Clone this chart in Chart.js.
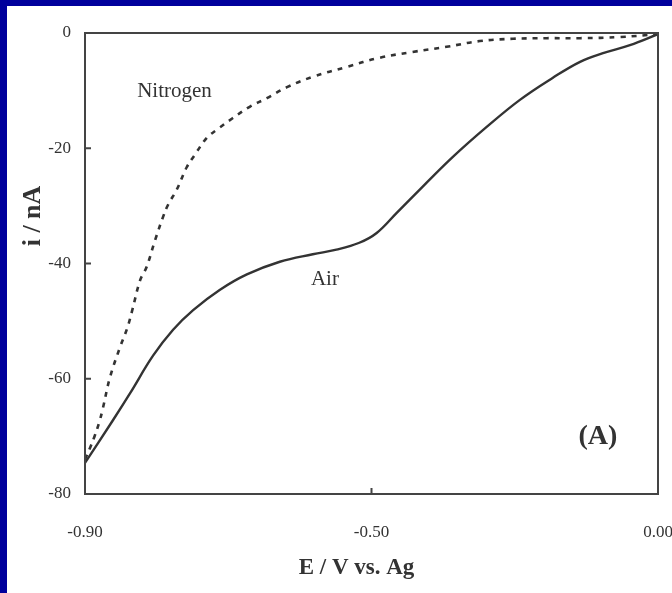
<!DOCTYPE html>
<html>
<head>
<meta charset="utf-8">
<title>Air vs Nitrogen</title>
<script src="https://cdn.jsdelivr.net/npm/chart.js@4.4.1/dist/chart.umd.min.js"></script>
<style>
  html, body { margin: 0; padding: 0; width: 672px; height: 593px; overflow: hidden; background: #00009c; }
  #wrap { position: absolute; left: 7px; top: 6px; width: 665px; height: 587px; background: #fff; }
</style>
</head>
<body>
<div id="wrap"><canvas id="chart"></canvas></div>
<script>
// tick labels
const xTicks = [-0.90, -0.50, 0.00];
const yTicks = [0, -20, -40, -60, -80];

// Air (solid)
const airX = [-0.900, -0.861, -0.837, -0.805, -0.777, -0.749, -0.712, -0.674, -0.628, -0.582, -0.549, -0.517,
              -0.491, -0.456, -0.411, -0.358, -0.299, -0.241, -0.184, -0.136, -0.096, -0.049, 0.000];
const airY = [-74.6, -67.2, -62.5, -56.0, -51.5, -48.1, -44.6, -41.9, -39.7, -38.4, -37.6, -36.4,
              -34.7, -31.2, -26.7, -21.5, -16.3, -11.6, -7.8, -5.0, -3.5, -2.1, -0.2];

// Nitrogen (dashed)
const n2X = [-0.900, -0.893, -0.887, -0.880, -0.875, -0.865, -0.851, -0.841, -0.834, -0.823, -0.814, -0.802,
             -0.791, -0.784, -0.772, -0.758, -0.747, -0.730, -0.716, -0.694, -0.670, -0.646, -0.618, -0.582,
             -0.535, -0.486, -0.429, -0.369, -0.311, -0.253, -0.194, -0.136, -0.066, 0.000];
const n2Y = [-74.0, -72.0, -70.1, -67.5, -65.1, -59.7, -54.5, -51.2, -48.1, -42.9, -40.6, -35.9,
             -31.9, -29.8, -27.2, -23.3, -21.2, -18.2, -16.8, -14.8, -12.8, -11.3, -9.4, -7.6,
             -5.9, -4.3, -3.3, -2.4, -1.4, -1.0, -0.9, -0.9, -0.7, -0.2];

const serif = '"Liberation Serif", "DejaVu Serif", serif';
const ink = '#333';

// the printed x axis is spaced evenly between its labels, so map piecewise between ticks
class StepScale extends Chart.LinearScale {
  buildTicks() {
    return xTicks.map(v => ({ value: v }));
  }
  getPixelForValue(value) {
    const n = xTicks.length - 1;
    let i = 0;
    while (i < n - 1 && value > xTicks[i + 1]) i++;
    const frac = (value - xTicks[i]) / (xTicks[i + 1] - xTicks[i]);
    return this.getPixelForDecimal((i + frac) / n);
  }
  getValueForPixel(pixel) {
    const n = xTicks.length - 1;
    const d = this.getDecimalForPixel(pixel) * n;
    const i = Math.min(Math.max(Math.floor(d), 0), n - 1);
    return xTicks[i] + (d - i) * (xTicks[i + 1] - xTicks[i]);
  }
}
StepScale.id = 'step';
StepScale.defaults = {};
Chart.register(StepScale);

function toPoints(xs, ys) {
  return xs.map((x, i) => ({ x: x, y: ys[i] }));
}

// box round the plot plus inward tick marks
const framePlugin = {
  id: 'frame',
  afterDraw(chart) {
    const ctx = chart.ctx;
    const a = chart.chartArea;
    const xs = chart.scales.x;
    const ys = chart.scales.y;
    ctx.save();
    ctx.strokeStyle = '#444';
    ctx.lineWidth = 2;
    ctx.strokeRect(a.left, a.top, a.right - a.left, a.bottom - a.top);
    ctx.beginPath();
    xs.ticks.forEach(t => {
      const px = xs.getPixelForValue(t.value);
      ctx.moveTo(px, a.bottom);
      ctx.lineTo(px, a.bottom - 6);
    });
    ys.ticks.forEach(t => {
      const py = ys.getPixelForValue(t.value);
      ctx.moveTo(a.left, py);
      ctx.lineTo(a.left + 6, py);
    });
    ctx.stroke();
    ctx.restore();
  }
};

// curve names, panel letter and axis titles
const textPlugin = {
  id: 'texts',
  afterDraw(chart) {
    const ctx = chart.ctx;
    const xs = chart.scales.x;
    const ys = chart.scales.y;
    const a = chart.chartArea;
    ctx.save();
    ctx.fillStyle = ink;
    ctx.textAlign = 'center';
    ctx.textBaseline = 'middle';

    ctx.font = '21px ' + serif;
    ctx.fillText('Nitrogen', xs.getPixelForValue(-0.775), ys.getPixelForValue(-10.2));
    ctx.fillText('Air', xs.getPixelForValue(-0.565), ys.getPixelForValue(-42.7));
    ctx.font = 'bold 28px ' + serif;
    ctx.fillText('(A)', xs.getPixelForValue(-0.105), ys.getPixelForValue(-70.1));

    ctx.font = 'bold 23px ' + serif;
    ctx.fillText('E / V vs. Ag', (a.left + a.right) / 2 - 15, a.bottom + 74);

    ctx.translate(26, a.top + 183);
    ctx.rotate(-Math.PI / 2);
    ctx.font = 'bold 26px ' + serif;
    ctx.fillText('i / nA', 0, 0);
    ctx.restore();
  }
};

new Chart(document.getElementById('chart'), {
  type: 'scatter',
  data: {
    datasets: [
      {
        label: 'Air',
        data: toPoints(airX, airY),
        showLine: true,
        borderColor: ink,
        borderWidth: 2.4,
        pointRadius: 0,
        tension: 0.4
      },
      {
        label: 'Nitrogen',
        data: toPoints(n2X, n2Y),
        showLine: true,
        borderColor: ink,
        borderWidth: 2.6,
        borderDash: [5, 6],
        pointRadius: 0,
        tension: 0.4
      }
    ]
  },
  options: {
    responsive: true,
    maintainAspectRatio: false,
    animation: false,
    layout: { padding: { left: 0, top: 27, right: 14, bottom: 0 } },
    scales: {
      x: {
        type: 'step',
        min: -0.9,
        max: 0,
        grid: { display: false, drawTicks: false },
        border: { display: false },
        ticks: {
          padding: 28,
          maxRotation: 0,
          autoSkip: false,
          color: ink,
          font: { family: serif, size: 17 },
          callback: v => v.toFixed(2)
        },
        afterFit: s => { s.height = 99; s.paddingLeft = 0; s.paddingRight = 0; }
      },
      y: {
        type: 'linear',
        min: -80,
        max: 0,
        grid: { display: false, drawTicks: false },
        border: { display: false },
        afterBuildTicks: s => { s.ticks = yTicks.map(v => ({ value: v })); },
        ticks: {
          padding: 14,
          color: ink,
          font: { family: serif, size: 17 },
          callback: v => String(v)
        },
        afterFit: s => { s.width = 78; s.paddingTop = 0; s.paddingBottom = 0; }
      }
    },
    plugins: {
      legend: { display: false },
      tooltip: { enabled: false }
    }
  },
  plugins: [framePlugin, textPlugin]
});
</script>
</body>
</html>
